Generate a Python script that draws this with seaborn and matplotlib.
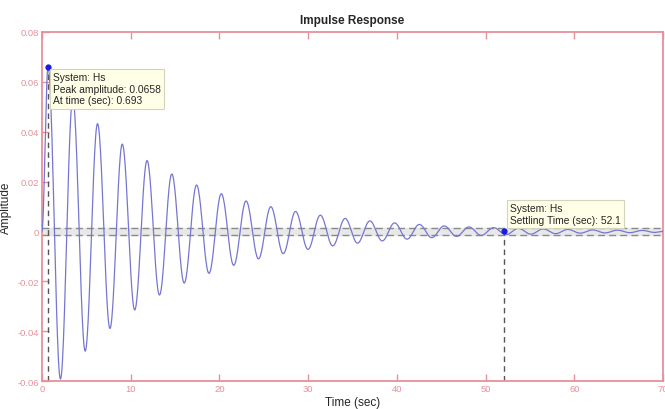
import numpy as np
import pandas as pd
import matplotlib
matplotlib.use('Agg')
import matplotlib.pyplot as plt
import seaborn as sns

# Extrema of the impulse response (time in sec, amplitude)
ext_time = [0.0, 0.693, 2.09, 3.48, 4.88, 6.27, 7.67, 9.06, 10.46, 11.85, 13.25,
            14.64, 16.04, 17.43, 18.83, 20.22, 21.62, 23.01, 24.41, 25.80, 27.20,
            28.59, 29.99, 31.38, 32.78, 34.17, 35.57, 36.96, 38.36, 39.75, 41.15,
            42.54, 43.94, 45.33, 46.73, 48.12, 49.52, 50.91, 52.31, 53.70, 55.10,
            56.49, 57.89, 59.28, 60.68, 62.07, 63.47, 64.86, 66.26, 67.65, 69.05, 70.0]
ext_amp = [0.0, 0.0658, -0.0592, 0.0533, -0.0480, 0.0432, -0.0389, 0.0350, -0.0315,
           0.0284, -0.0255, 0.0230, -0.0207, 0.0186, -0.0168, 0.0151, -0.0136, 0.0122,
           -0.0110, 0.0099, -0.0089, 0.0080, -0.0072, 0.0065, -0.0058, 0.0052, -0.0047,
           0.0042, -0.0038, 0.0034, -0.0031, 0.0028, -0.0025, 0.0022, -0.0020, 0.0018,
           -0.0016, 0.0015, -0.0013, 0.0012, -0.0011, 0.0010, -0.0009, 0.0008, -0.0007,
           0.0006, -0.0006, 0.0005, -0.0005, 0.0004, -0.0004, 0.0]

peak_time = 0.693
peak_amp = 0.0658
settle_time = 52.1
settle_band = 0.0013

x_ticks = [0, 10, 20, 30, 40, 50, 60, 70]
y_ticks = [-0.06, -0.04, -0.02, 0, 0.02, 0.04, 0.06, 0.08]
y_ticklabels = ['-0.06', '-0.04', '-0.02', '0', '0.02', '0.04', '0.06', '0.08']

# smooth half-cosine strokes between the read extrema
ts, ys = [], []
for i in range(len(ext_time) - 1):
    s = np.linspace(0, 1, 25, endpoint=False)
    ts.extend(ext_time[i] + (ext_time[i + 1] - ext_time[i]) * s)
    ys.extend(ext_amp[i] + (ext_amp[i + 1] - ext_amp[i]) * (1 - np.cos(np.pi * s)) / 2)
ts.append(ext_time[-1])
ys.append(ext_amp[-1])
df = pd.DataFrame({'t': ts, 'y': ys})

sns.set_style('white')
plt.rcParams['font.family'] = ['Liberation Sans', 'DejaVu Sans']

red = '#e8909a'
fig = plt.figure(figsize=(6.65, 4.1), dpi=100)
ax = fig.add_axes([0.063, 0.068, 0.934, 0.852])

# settling band around zero
ax.axhspan(-settle_band, settle_band, color='#e8e8e8', zorder=1)
ax.axhline(settle_band, color='#8a8a8a', ls=(0, (5, 3)), lw=1, zorder=2)
ax.axhline(-settle_band, color='#8a8a8a', ls=(0, (5, 3)), lw=1, zorder=2)

sns.lineplot(data=df, x='t', y='y', color='#7676d2', lw=0.9, ax=ax, zorder=3)

# marker lines
ax.plot([peak_time, peak_time], [-0.06, peak_amp], color='#555555', ls=(0, (4, 3)), lw=1, zorder=2)
ax.plot([settle_time, settle_time], [-0.06, 0], color='#555555', ls=(0, (4, 3)), lw=1, zorder=2)
ax.plot([peak_time], [peak_amp], 'o', color='#1a1ae6', ms=3.5, zorder=5)
ax.plot([settle_time], [0], 'o', color='#1a1ae6', ms=3.5, zorder=5)

box = dict(boxstyle='square,pad=0.3', facecolor='#ffffe8', edgecolor='#d4d4bc', lw=0.8)
ax.text(1.25, 0.0638, 'System: Hs\nPeak amplitude: 0.0658\nAt time (sec): 0.693',
        fontsize=7.4, va='top', ha='left', bbox=box, zorder=6, linespacing=1.2)
ax.text(52.8, 0.0112, 'System: Hs\nSettling Time (sec): 52.1',
        fontsize=7.4, va='top', ha='left', bbox=box, zorder=6, linespacing=1.2)

ax.set_xlim(0, 70)
ax.set_ylim(-0.06, 0.08)
ax.set_xticks(x_ticks)
ax.set_yticks(y_ticks)
ax.set_yticklabels(y_ticklabels)
ax.tick_params(direction='in', length=5, width=1, colors=red, labelsize=6.8,
               top=True, bottom=True, left=True, right=False, pad=2)
for sp in ax.spines.values():
    sp.set_color(red)
    sp.set_linewidth(1.3)

ax.set_title('Impulse Response', fontsize=8.5, fontweight='bold', pad=6)
ax.set_xlabel('Time (sec)', fontsize=8.5, labelpad=2)
ax.set_ylabel('Amplitude', fontsize=8.5, labelpad=4)

fig.savefig('out.png', dpi=100)
